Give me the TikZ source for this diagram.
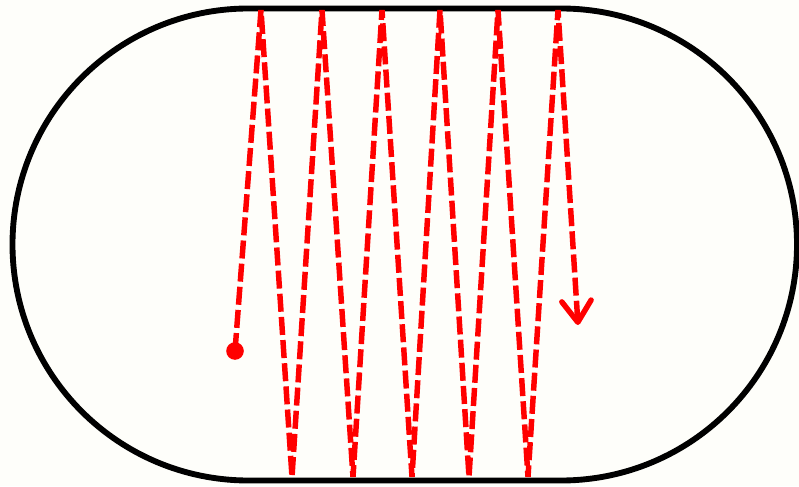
\documentclass[tikz,border=0pt]{standalone}
\usepackage{tikz}
\usetikzlibrary{arrows.meta}
\definecolor{paper}{RGB}{254,254,250}

\begin{document}
\begin{tikzpicture}[x=0.75pt, y=0.75pt,
    wall/.style={line width=4.4pt, black},
    orbit/.style={line width=4.1pt, red, dash pattern=on 13.5pt off 3.9pt, line join=bevel}]
  \fill[paper] (0,0) rectangle (799,486);
  \useasboundingbox (0,0) rectangle (799,486);
  % stadium billiard
  \draw[wall] (248.5,477.5) -- (561,477.5)
    arc[start angle=90, end angle=-90, radius=236] -- (248.5,5.5)
    arc[start angle=270, end angle=90, radius=236] -- cycle;
  % bounce points
  \coordinate (start) at (235,135);
  \coordinate (finish) at (578,161);
  \foreach \n/\x in {1/261, 2/322, 3/382, 4/440, 5/498, 6/558}{
    \coordinate (t\n) at (\x,476);
  }
  \foreach \n/\x in {1/292, 2/353, 3/412, 4/469, 5/528}{
    \coordinate (b\n) at (\x,9);
  }
  % trajectory
  \draw[orbit, -{Straight Barb[length=16pt, width=22pt, round]}]
    (start) -- (t1) -- (b1) -- (t2) -- (b2) -- (t3) -- (b3)
    -- (t4) -- (b4) -- (t5) -- (b5) -- (t6) -- (finish);
  \fill[red] (start) circle[radius=6.6pt];
\end{tikzpicture}
\end{document}
